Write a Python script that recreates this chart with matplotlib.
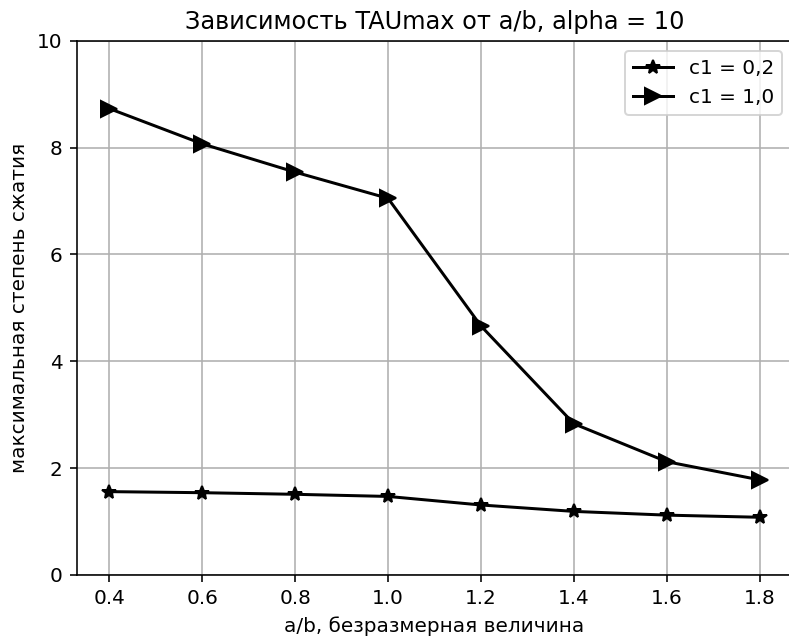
import matplotlib
matplotlib.use('Agg')
import matplotlib.pyplot as plt

ab = [0.4, 0.6, 0.8, 1.0, 1.2, 1.4, 1.6, 1.8]
tau_c02 = [1.56, 1.54, 1.51, 1.47, 1.31, 1.19, 1.12, 1.08]
tau_c10 = [8.73, 8.07, 7.54, 7.05, 4.66, 2.83, 2.12, 1.78]

fig = plt.figure(figsize=(789 / 144, 641 / 144), dpi=144)
# правая часть осей обрезана, как на исходной картинке
ax = fig.add_axes([0.0972, 0.103, 0.907, 0.8335])

ax.plot(ab, tau_c02, color='black', marker='*', markersize=7, label='c1 = 0,2')
ax.plot(ab, tau_c10, color='black', marker='>', markersize=8, label='c1 = 1,0')

ax.set_ylim(0, 10)
ax.set_xticks(ab)
ax.set_title('Зависимость TAUmax от a/b, alpha = 10')
ax.set_xlabel('a/b, безразмерная величина')
ax.set_ylabel('максимальная степень сжатия')
ax.grid(True)
ax.legend(loc='upper right')

fig.savefig('out.png', dpi=144)
